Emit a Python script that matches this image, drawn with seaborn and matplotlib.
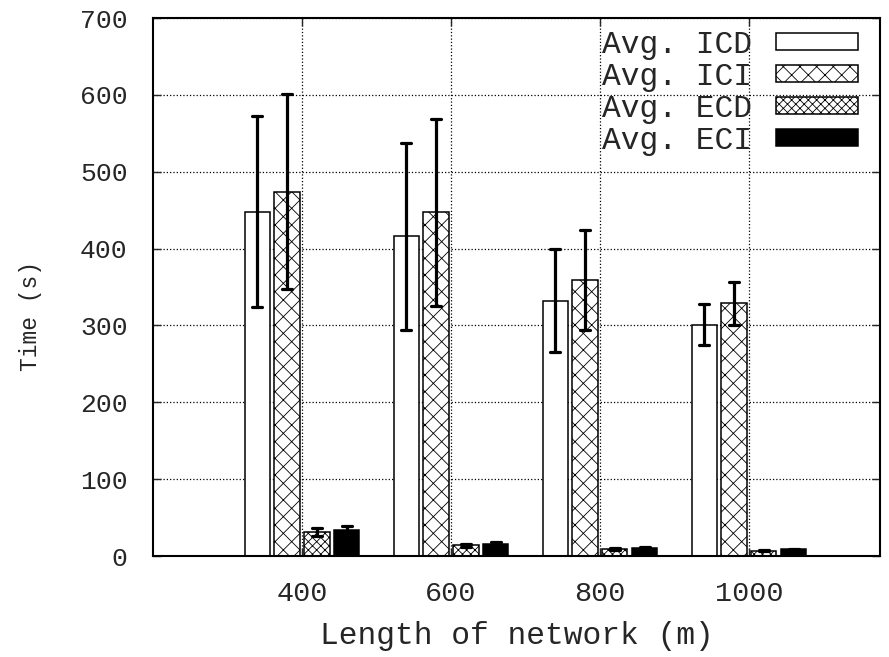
import matplotlib
matplotlib.use("Agg")
import matplotlib.pyplot as plt
import seaborn as sns
import pandas as pd
from matplotlib.patches import Patch

# ---- data ----
lengths = ["400", "600", "800", "1000"]
series = ["Avg. ICD", "Avg. ICI", "Avg. ECD", "Avg. ECI"]
icd = [448, 416, 332, 301]
icd_err = [124, 122, 67, 27]
ici = [474, 447, 359, 329]
ici_err = [127, 122, 65, 28]
ecd = [31, 14, 9, 7]
ecd_err = [5, 2, 1, 1]
eci = [34, 16, 11, 8.5]
eci_err = [4.5, 2, 1, 1]

values = {"Avg. ICD": (icd, icd_err), "Avg. ICI": (ici, ici_err),
          "Avg. ECD": (ecd, ecd_err), "Avg. ECI": (eci, eci_err)}
rows = []
for s in series:
    v, e = values[s]
    for L, vi, ei in zip(lengths, v, e):
        rows.append({"length": L, "series": s, "time": vi - ei})
        rows.append({"length": L, "series": s, "time": vi + ei})
df = pd.DataFrame(rows)

sns.set_style("white")
plt.rcParams["font.family"] = ["Liberation Mono", "DejaVu Sans Mono"]
plt.rcParams["hatch.linewidth"] = 0.6

colors = {"Avg. ICD": "white", "Avg. ICI": "white", "Avg. ECD": "white", "Avg. ECI": "black"}
hatches = ["", "xx", "xxxx", ""]

fig = plt.figure(figsize=(8.89, 6.57), dpi=100)
ax = fig.add_axes([0.1721, 0.1537, 0.9899 - 0.1721, 0.9726 - 0.1537])

sns.barplot(data=df, x="length", y="time", hue="series", order=lengths,
            hue_order=series, palette=colors,
            errorbar=lambda x: (x.min(), x.max()),
            capsize=0.27, err_kws={"color": "black", "linewidth": 2.3},
            width=0.8, gap=0.15, edgecolor="black", linewidth=1.1,
            legend=False, ax=ax)

for cont, h in zip(ax.containers, hatches):
    for p in cont:
        p.set_hatch(h)

ax.set_xlim(-1.0, 3.88)
ax.set_ylim(0, 700)
ax.set_yticks(range(0, 701, 100))
ax.grid(True, linestyle=":", color="black", linewidth=0.9)
ax.set_axisbelow(True)
for sp in ax.spines.values():
    sp.set_visible(True)
    sp.set_color("black")
    sp.set_linewidth(1.5)

ax.tick_params(axis="both", direction="in", length=6, width=1,
               top=True, right=True, bottom=True, left=True)
ax.tick_params(axis="y", labelsize=19, pad=18.3)
ax.tick_params(axis="x", labelsize=20.5, pad=17.7)

ax.set_xlabel("Length of network (m)", fontsize=22.5, labelpad=10.4)
ax.set_ylabel("Time (s)", fontsize=16.5)
ax.yaxis.set_label_coords(-0.152, 0.446)

handles = [Patch(facecolor=colors[s], edgecolor="black", hatch=h, linewidth=1.1)
           for s, h in zip(series, hatches)]
leg = ax.legend(handles, series, loc="upper right", markerfirst=False,
                frameon=False, fontsize=22.5, handlelength=2.65, handleheight=0.45,
                handletextpad=0.75, labelspacing=0.06,
                bbox_to_anchor=(1.009, 1.03))

fig.savefig("out.png", dpi=100)
